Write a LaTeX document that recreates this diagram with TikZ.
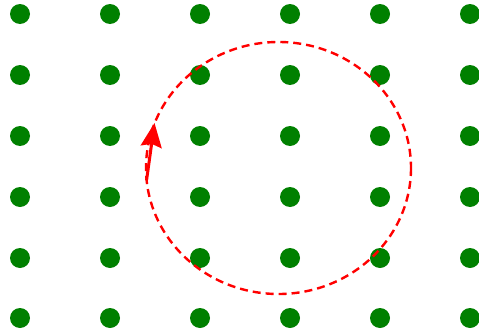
\documentclass[tikz,border=0pt]{standalone}
\usepackage{tikz}
\usetikzlibrary{arrows.meta}
\definecolor{dotgreen}{RGB}{0,128,0}
\definecolor{loopred}{RGB}{255,0,0}

\begin{document}
\begin{tikzpicture}[x=1pt, y=-1pt,
  site/.style={circle, fill=dotgreen, minimum size=20pt, inner sep=0pt}]
\useasboundingbox (0,0) rectangle (479,332);
% Lattice of sites
\foreach \i/\x in {1/20,2/110,3/200,4/290,5/380,6/470}
  \foreach \j/\y in {1/14,2/75,3/136,4/197,5/258,6/318}
    \node[site] (s\i\j) at (\x,\y) {};

% Dashed loop
\draw[loopred, line width=2.4pt, dash pattern=on 8pt off 5pt] (278.5,168) ellipse [x radius=132.5, y radius=126];

% Arrow on the loop
\coordinate (tail) at (146.6,180);
\coordinate (tip) at (154.5,123);
\draw[loopred, line width=3pt, -{Stealth[length=24pt, width=21pt, inset=3pt]}] (tail) -- (tip);
\end{tikzpicture}
\end{document}
